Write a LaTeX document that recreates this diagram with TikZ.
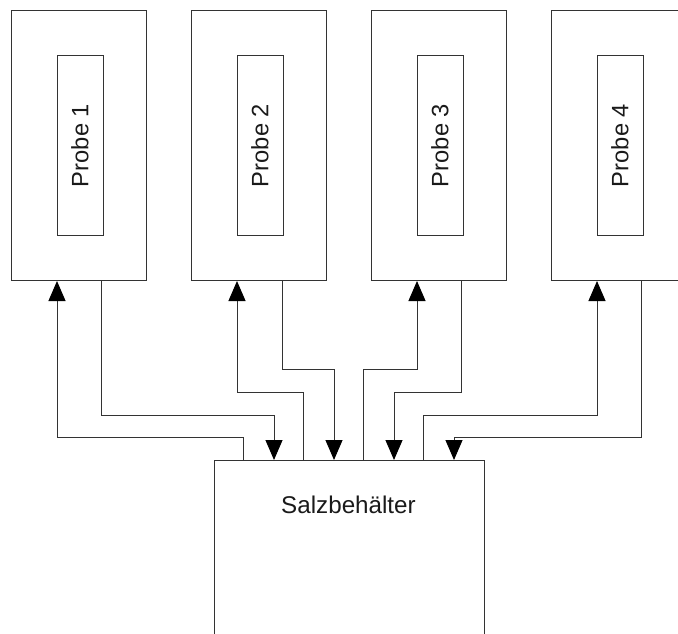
\documentclass[tikz,border=0pt]{standalone}
\usepackage{fontspec}
\setmainfont{Liberation Sans}
\usetikzlibrary{arrows.meta}
\definecolor{linec}{HTML}{333333}
\definecolor{textc}{HTML}{1A1A1A}
\tikzset{
  outerbox/.style={draw=linec, line width=1pt, minimum width=135pt, minimum height=270pt, inner sep=0pt, anchor=north west},
  innerbox/.style={draw=linec, line width=1pt, minimum width=46pt, minimum height=180pt, inner sep=0pt, anchor=north west},
  probetext/.style={rotate=90, text=textc, font=\fontsize{23.7}{28}\selectfont, inner sep=0pt},
  tankbox/.style={draw=linec, line width=1pt, minimum width=270pt, minimum height=200pt, inner sep=0pt, anchor=north west},
  conn/.style={draw=linec, line width=1pt, -{Triangle[width=17pt,length=20pt,color=black]}},
}
\begin{document}
\begin{tikzpicture}[x=1pt,y=-1pt]
\useasboundingbox (0,0) rectangle (678,634);
\clip (0,0) rectangle (678,634);
% Probe boxes
\node[outerbox] (b1) at (11,10) {};
\node[outerbox] (b2) at (191,10) {};
\node[outerbox] (b3) at (371,10) {};
\node[outerbox] (b4) at (551,10) {};
\node[innerbox] (i1) at (56.5,55) {};
\node[innerbox] (i2) at (236.5,55) {};
\node[innerbox] (i3) at (416.5,55) {};
\node[innerbox] (i4) at (596.5,55) {};
\node[probetext] (t1) at (i1.center) {Probe 1};
\node[probetext] (t2) at (i2.center) {Probe 2};
\node[probetext] (t3) at (i3.center) {Probe 3};
\node[probetext] (t4) at (i4.center) {Probe 4};
% Salt tank
\node[tankbox] (salz) at (213.5,460) {};
\node[text=textc, font=\fontsize{24.2}{28}\selectfont, inner sep=0pt] (salzlabel) at (348.5,505) {Salzbehälter};
% Connectors
\draw[conn] (salz.north -| 243.5,0) |- (57,437) -- (b1.south -| 57,0);
\draw[conn] (b1.south -| 101.5,0) |- (274,415) -- (salz.north -| 274,0);
\draw[conn] (salz.north -| 303.5,0) |- (237,392) -- (b2.south -| 237,0);
\draw[conn] (b2.south -| 282,0) |- (334,369) -- (salz.north -| 334,0);
\draw[conn] (salz.north -| 363.5,0) |- (417,369) -- (b3.south -| 417,0);
\draw[conn] (b3.south -| 461,0) |- (394,392) -- (salz.north -| 394,0);
\draw[conn] (salz.north -| 423.5,0) |- (597,415) -- (b4.south -| 597,0);
\draw[conn] (b4.south -| 641,0) |- (454,437) -- (salz.north -| 454,0);
\end{tikzpicture}
\end{document}
